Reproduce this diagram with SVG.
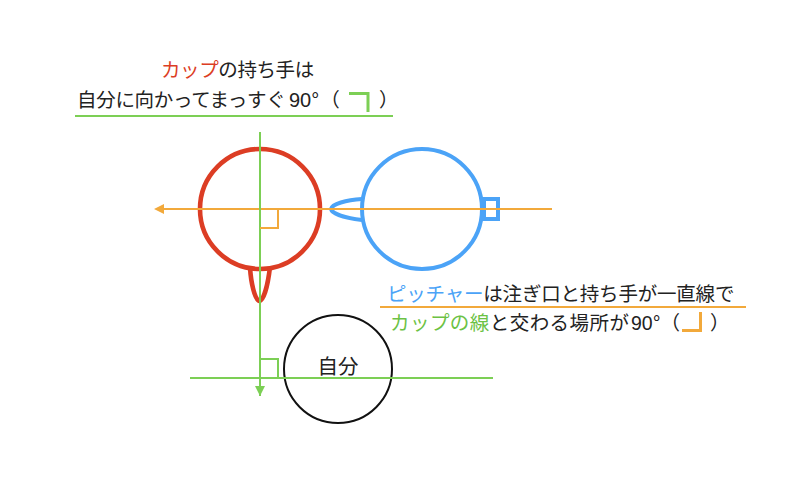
<svg xmlns="http://www.w3.org/2000/svg" width="812" height="486" viewBox="0 0 812 486">
<style>
text{font-family:"Noto Sans CJK JP","Noto Sans",sans-serif;font-size:19.5px;fill:#222}
.num{font-family:"Liberation Sans","Noto Sans CJK JP",sans-serif;font-size:20px;letter-spacing:0}
.cjk{font-family:"Noto Sans CJK JP",sans-serif;font-size:19.5px;letter-spacing:0}
.red{fill:#dc3d24}.blue{fill:#4ba3f7}.grn{fill:#6cc244}
.cup{fill:none;stroke:#dc3d24;stroke-width:4.6}
.pit{fill:none;stroke:#4ba3f7;stroke-width:4}
.gl{fill:none;stroke:#7ccf55;stroke-width:2}
.ol{fill:none;stroke:#f2a93b;stroke-width:2}
</style>
<defs>
<marker id="ao" markerUnits="userSpaceOnUse" markerWidth="12" markerHeight="12" refX="0" refY="5" orient="auto-start-reverse" viewBox="0 0 12 10">
<path d="M0,0 L10,5 L0,10 Z" fill="#f2a93b"/>
</marker>
<marker id="ag" markerUnits="userSpaceOnUse" markerWidth="12" markerHeight="12" refX="10" refY="5" orient="auto" viewBox="0 0 12 10">
<path d="M0,0 L10,5 L0,10 Z" fill="#7ccf55"/>
</marker>
</defs>
<rect width="812" height="486" fill="#fff"/>
<g id="cup">
<circle class="cup" cx="260" cy="209" r="60"/>
<path class="cup" d="M250,267 C251,284 255,300 259.5,301 C264,300 268,284 270,267"/>
</g>
<g id="pitcher">
<circle class="pit" cx="422" cy="209" r="60"/>
<path class="pit" d="M362,199 C346,200 332,204 331,209 C332,214 346,218 362,220"/>
<rect class="pit" x="484" y="199" width="14" height="20"/>
</g>
<g id="self">
<circle cx="338" cy="369" r="54" fill="none" stroke="#111" stroke-width="2"/>
<text x="338" y="374" text-anchor="middle" style="font-size:20.5px">自分</text>
</g>
<g id="connectors">
<line class="ol" x1="552" y1="209" x2="164" y2="209" marker-end="url(#ao)"/>
<line class="gl" x1="260" y1="132" x2="260" y2="396" marker-end="url(#ag)"/>
<line class="gl" x1="190" y1="378" x2="493" y2="378"/>
<path class="ol" d="M278,209 L278,228 L260,228"/>
<path class="gl" d="M260,359 L278,359 L278,378"/>
</g>
<g id="label-cup">
<text x="161" y="77" style="letter-spacing:-0.4px"><tspan class="red">カップ</tspan>の持ち手は</text>
<text y="107" style="letter-spacing:-0.3px"><tspan x="77">自分に向かってまっすぐ</tspan><tspan x="289" class="num">90°</tspan><tspan class="cjk" dx="1">（</tspan><tspan x="379" class="cjk">）</tspan></text>
<path d="M349,93.5 L368,93.5 L368,112" fill="none" stroke="#7ccf55" stroke-width="3"/>
<line class="gl" x1="75" y1="116" x2="393" y2="116"/>
</g>
<g id="label-pitcher">
<text x="387" y="301" style="letter-spacing:-0.2px"><tspan class="blue">ピッチャー</tspan>は注ぎ口と持ち手が一直線で</text>
<line class="ol" x1="380" y1="307" x2="746" y2="307"/>
<text y="330" style="letter-spacing:0.45px"><tspan x="390" class="grn">カップの線</tspan>と交わる場所が<tspan x="631" class="num" style="font-size:19.5px">90°</tspan><tspan class="cjk">（</tspan><tspan x="710" class="cjk">）</tspan></text>
<path d="M682,330.5 L700.5,330.5 L700.5,312" fill="none" stroke="#f2a93b" stroke-width="3"/>
</g>
</svg>
